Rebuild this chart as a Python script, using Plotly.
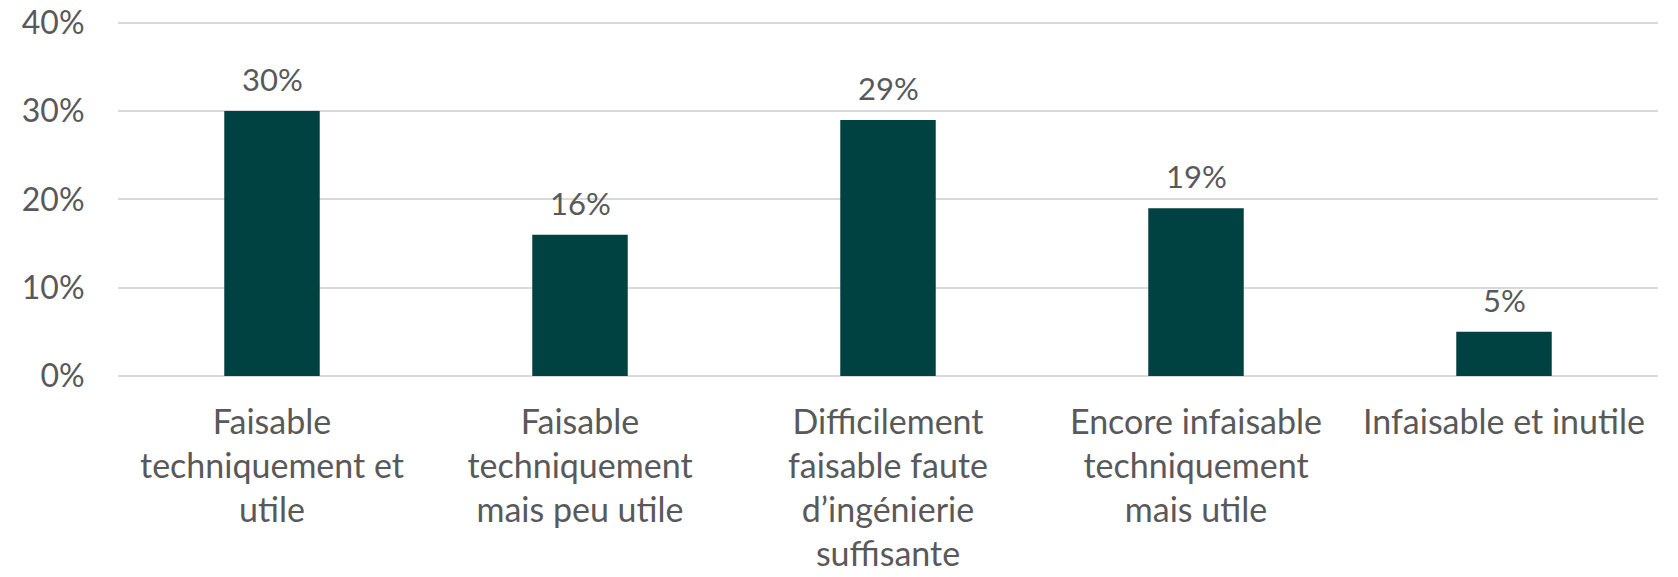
import plotly.graph_objects as go

categories = [
    "Faisable<br>techniquement et<br>utile",
    "Faisable<br>techniquement<br>mais peu utile",
    "Difficilement<br>faisable faute<br>d’ingénierie<br>suffisante",
    "Encore infaisable<br>techniquement<br>mais utile",
    "Infaisable et inutile",
]
values = [0.30, 0.16, 0.29, 0.19, 0.05]
y_ticks = [0, 0.1, 0.2, 0.3, 0.4]

FONT = "Lato"
GRAY = "#595959"

fig = go.Figure(go.Bar(
    x=categories,
    y=values,
    marker=dict(color="#004241", line=dict(width=0)),
    width=0.31,
    hoverinfo="skip",
))

for c, v in zip(categories, values):
    fig.add_annotation(
        x=c, y=v, text=f"{v:.0%}", showarrow=False,
        yanchor="middle", yshift=32,
        font=dict(family=FONT, size=31, color=GRAY),
    )

# page body has an 8px margin; margins are shifted to compensate
fig.update_layout(
    width=1678, height=577,
    margin=dict(l=110, r=28, t=13, b=209, autoexpand=False),
    paper_bgcolor="white", plot_bgcolor="white",
    showlegend=False,
    font=dict(family=FONT, size=31, color=GRAY),
    xaxis=dict(
        automargin=False,
        showgrid=False, showline=False, zeroline=False,
        ticks="outside", ticklen=0, tickcolor="white",
        ticklabelstandoff=16,
        ticklabeloverflow="allow",
        tickfont=dict(family=FONT, size=34, color=GRAY),
    ),
    yaxis=dict(
        automargin=False,
        range=[0, 0.402], tickvals=y_ticks, tickformat=".0%",
        showgrid=True, gridcolor="#d9d9d9", gridwidth=2,
        zeroline=True, zerolinecolor="#d9d9d9", zerolinewidth=2,
        showline=False,
        ticks="outside", ticklen=0, tickcolor="white",
        ticklabelstandoff=26,
        ticklabeloverflow="allow",
        tickfont=dict(family=FONT, size=32, color=GRAY),
    ),
)

fig.write_html("out.html")
